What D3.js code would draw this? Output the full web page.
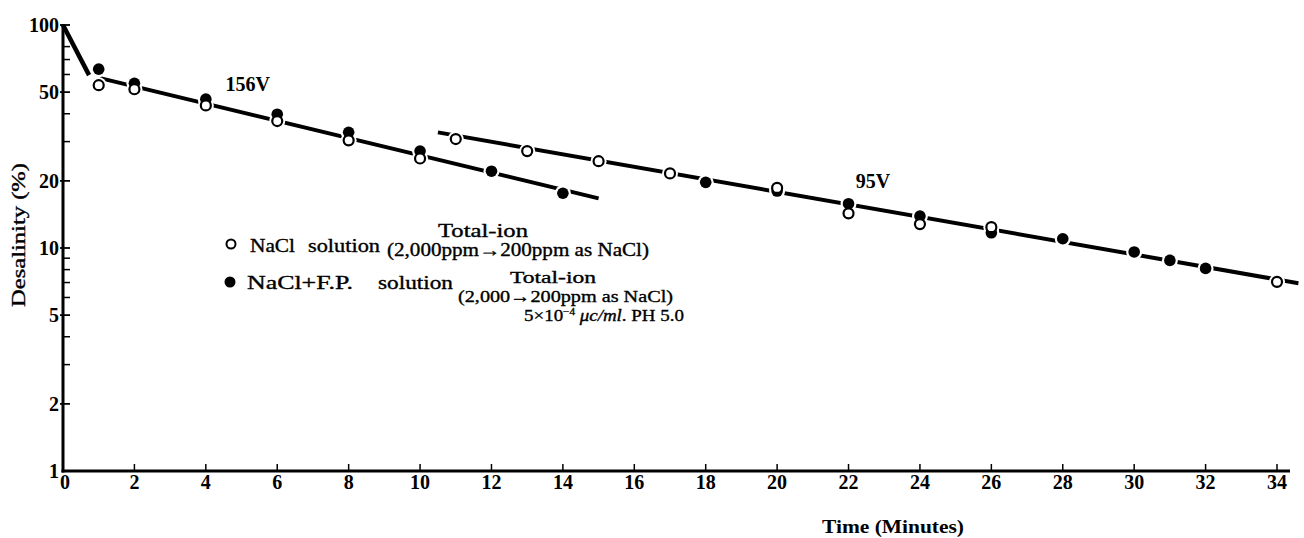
<!DOCTYPE html>
<html>
<head>
<meta charset="utf-8">
<script src="https://cdn.jsdelivr.net/npm/d3@7"></script>
<style>
  html, body { margin: 0; padding: 0; background: #fff; }
  svg { display: block; }
  text { font-family: "Liberation Serif", "DejaVu Serif", serif; fill: #000; }
</style>
</head>
<body>
<svg id="chart" width="1304" height="538"></svg>
<script>
// ---------- data ----------
const xTicks = [0, 2, 4, 6, 8, 10, 12, 14, 16, 18, 20, 22, 24, 26, 28, 30, 32, 34];
const yMajorTicks = [100, 50, 20, 10, 5, 2, 1];
const yMinorTicks = [80, 70, 60, 40, 30, 9, 8, 7, 6, 4, 3];

// NaCl solution (open circles)
const openTimes  = [1, 2, 4, 6, 8, 10, 11, 13, 15, 17, 20, 22, 24, 26, 34];
const openValues = [53.7, 51.5, 43.6, 37.1, 30.4, 25.2, 30.8, 27.2, 24.5, 21.6, 18.6, 14.3, 12.8, 12.4, 7.05];

// NaCl + F.P. solution (filled circles)
const filledTimes  = [1, 2, 4, 6, 8, 10, 12, 14, 18, 20, 22, 24, 26, 28, 30, 31, 32];
const filledValues = [63.4, 54.8, 46.5, 39.8, 33.0, 27.2, 22.1, 17.6, 19.7, 18.0, 15.8, 13.9, 11.7, 11.0, 9.6, 8.8, 8.1];

// fitted lines (endpoints)
const initialLineTimes  = [0, 0.73];
const initialLineValues = [100, 59.6];
const line156Times  = [1.04, 15];
const line156Values = [57.8, 16.7];
const line95Times  = [10.5, 34.6];
const line95Values = [33.0, 6.95];

// voltage annotations
const voltLabels = ["156V", "95V"];
const voltTimes  = [4.55, 22.2];
const voltValues = [50.5, 18.6];

// ---------- scales ----------
const svg = d3.select("#chart");
const x = d3.scaleLinear().domain([0, 34]).range([63, 1277]);
const y = d3.scaleLog().domain([1, 100]).range([471, 25]);

// ---------- lines ----------
const lineGen = d3.line().x(d => x(d[0])).y(d => y(d[1]));
const lines = [
  { t: initialLineTimes, v: initialLineValues, w: 4.5 },
  { t: line156Times, v: line156Values, w: 4 },
  { t: line95Times, v: line95Values, w: 4 }
];
lines.forEach(l => {
  svg.append("path")
    .datum(l.t.map((t, i) => [t, l.v[i]]))
    .attr("d", lineGen)
    .attr("fill", "none")
    .attr("stroke", "#000")
    .attr("stroke-width", l.w)
    .attr("stroke-linecap", "butt");
});

// ---------- markers ----------
const openData = openTimes.map((t, i) => [t, openValues[i]]);
const filledData = filledTimes.map((t, i) => [t, filledValues[i]]);

svg.append("g").selectAll("circle")
  .data(openData.concat(filledData))
  .join("circle")
  .attr("cx", d => x(d[0])).attr("cy", d => y(d[1]))
  .attr("r", 8).attr("fill", "#fff");

svg.append("g").selectAll("circle")
  .data(filledData)
  .join("circle")
  .attr("cx", d => x(d[0])).attr("cy", d => y(d[1]))
  .attr("r", 5.8).attr("fill", "#000");

svg.append("g").selectAll("circle")
  .data(openData)
  .join("circle")
  .attr("cx", d => x(d[0])).attr("cy", d => y(d[1]))
  .attr("r", 5).attr("fill", "#fff")
  .attr("stroke", "#000").attr("stroke-width", 2.2);

// ---------- axes ----------
const axisG = svg.append("g");
axisG.append("line")
  .attr("x1", x(0)).attr("x2", x(0))
  .attr("y1", y(100) - 1).attr("y2", y(1) + 1.5)
  .attr("stroke", "#000").attr("stroke-width", 3);
axisG.append("line")
  .attr("x1", x(0) - 1.5).attr("x2", x(34) + 13)
  .attr("y1", y(1)).attr("y2", y(1))
  .attr("stroke", "#000").attr("stroke-width", 3);

axisG.selectAll("line.ymaj")
  .data(yMajorTicks.filter(v => v !== 1))
  .join("line")
  .attr("class", "ymaj")
  .attr("x1", x(0) - 3).attr("x2", x(0) + 7)
  .attr("y1", d => y(d)).attr("y2", d => y(d))
  .attr("stroke", "#000").attr("stroke-width", 1.8);
axisG.selectAll("line.ymin")
  .data(yMinorTicks)
  .join("line")
  .attr("class", "ymin")
  .attr("x1", x(0)).attr("x2", x(0) + 7)
  .attr("y1", d => y(d)).attr("y2", d => y(d))
  .attr("stroke", "#000").attr("stroke-width", 1.5);
axisG.selectAll("text.ylab")
  .data(yMajorTicks)
  .join("text")
  .attr("class", "ylab")
  .attr("x", 59)
  .attr("y", d => y(d))
  .attr("dy", "0.36em")
  .attr("text-anchor", "end")
  .attr("font-size", 20)
  .attr("font-weight", "bold")
  .text(d => d);

axisG.selectAll("line.xt")
  .data(xTicks.filter(v => v !== 0))
  .join("line")
  .attr("class", "xt")
  .attr("x1", d => x(d)).attr("x2", d => x(d))
  .attr("y1", y(1)).attr("y2", y(1) - 7)
  .attr("stroke", "#000").attr("stroke-width", 1.5);
axisG.selectAll("text.xlab")
  .data(xTicks)
  .join("text")
  .attr("class", "xlab")
  .attr("x", d => x(d) + (d === 0 ? 2 : 0))
  .attr("y", 489)
  .attr("text-anchor", "middle")
  .attr("font-size", 20)
  .attr("font-weight", "bold")
  .text(d => d);

// axis titles
svg.append("text")
  .attr("x", 893).attr("y", 533)
  .attr("text-anchor", "middle")
  .attr("font-size", 18)
  .attr("font-weight", "bold")
  .attr("textLength", 142).attr("lengthAdjust", "spacingAndGlyphs")
  .text("Time (Minutes)");

svg.append("text")
  .attr("transform", "translate(25,235) rotate(-90)")
  .attr("text-anchor", "middle")
  .attr("font-size", 18)
  .attr("stroke", "#000").attr("stroke-width", 0.35)
  .attr("textLength", 144).attr("lengthAdjust", "spacingAndGlyphs")
  .text("Desalinity (%)");

// voltage annotations
svg.append("g").selectAll("text")
  .data(voltLabels)
  .join("text")
  .attr("x", (d, i) => x(voltTimes[i]))
  .attr("y", (d, i) => y(voltValues[i]))
  .attr("font-size", 20)
  .attr("font-weight", "bold")
  .text(d => d);

// ---------- legend ----------
const lg = svg.append("g");
lg.append("circle").attr("cx", 231).attr("cy", 244).attr("r", 4.5)
  .attr("fill", "#fff").attr("stroke", "#000").attr("stroke-width", 2);
lg.append("circle").attr("cx", 230).attr("cy", 282).attr("r", 5.5).attr("fill", "#000");

function lt(str, xx, yy, len, size) {
  return lg.append("text").attr("x", xx).attr("y", yy)
    .attr("font-size", size || 19)
    .attr("stroke", "#000").attr("stroke-width", 0.35)
    .attr("textLength", len).attr("lengthAdjust", "spacingAndGlyphs")
    .text(str);
}
lt("NaCl", 250, 252, 45);
lt("solution", 308, 252, 72);
lt("Total-ion", 438, 237, 90, 18);
lt("(2,000ppm\u2192200ppm as NaCl)", 387, 256, 262, 18);
lt("NaCl+F.P.", 247, 289, 106);
lt("solution", 378, 289, 75);
lt("Total-ion", 510, 283, 86, 17);
lt("(2,000\u2192200ppm as NaCl)", 458, 302, 215, 17);

const t5 = lg.append("text").attr("x", 524).attr("y", 321).attr("font-size", 17)
  .attr("stroke", "#000").attr("stroke-width", 0.35);
t5.append("tspan").text("5\u00d710");
t5.append("tspan").attr("font-size", 10).attr("dy", -6).text("\u22124");
t5.append("tspan").attr("dy", 6).text(" ");
t5.append("tspan").attr("font-style", "italic").text("\u03bcc/ml");
t5.append("tspan").text(". PH 5.0");
t5.attr("textLength", 160).attr("lengthAdjust", "spacingAndGlyphs");
</script>
</body>
</html>
